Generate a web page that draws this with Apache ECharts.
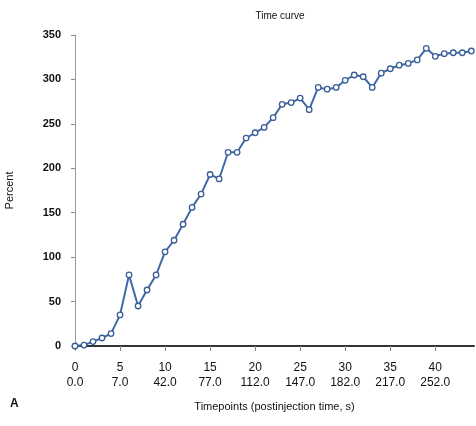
<!DOCTYPE html>
<html>
<head>
<meta charset="utf-8">
<script src="https://cdn.jsdelivr.net/npm/echarts@6/dist/echarts.min.js"></script>
<style>
  html, body { margin: 0; padding: 0; background: #fff; }
  #chart { width: 476px; height: 426px; }
</style>
</head>
<body>
<div id="chart"></div>
<script>
// timepoint index 0..44
const percent = [
  0, 1, 5, 9, 14, 35, 80, 45, 63, 80,
  106, 119, 137, 156, 171, 193, 188, 218, 218, 234,
  240, 246, 257, 272, 274, 279, 266, 291, 289, 291,
  299, 305, 303, 291, 307, 312, 316, 318, 322, 335,
  326, 329, 330, 330, 332
];
// second row under each tick (postinjection time, s)
const timeLabels = {
  0: '0.0', 5: '7.0', 10: '42.0', 15: '77.0', 20: '112.0',
  25: '147.0', 30: '182.0', 35: '217.0', 40: '252.0'
};

const data = percent.map((v, i) => [i, v]);
const font = 'Liberation Sans, Arial, sans-serif';

const chart = echarts.init(document.getElementById('chart'));
chart.setOption({
  animation: false,
  title: {
    text: 'Time curve',
    left: 275, top: 6,
    textAlign: 'center',
    textStyle: { fontFamily: font, fontSize: 10, fontWeight: 'normal', color: '#111' }
  },
  grid: { left: 75, right: 2, top: 35, bottom: 80, outerBoundsMode: 'none' },
  xAxis: {
    type: 'value',
    min: 0, max: 44.3, interval: 5,
    name: 'Timepoints (postinjection time, s)',
    nameLocation: 'middle',
    nameGap: 55,
    nameTextStyle: { fontFamily: font, fontSize: 11, color: '#111' },
    axisLine: { lineStyle: { color: '#333', width: 2 } },
    axisTick: { show: true, length: 5, lineStyle: { color: '#888' } },
    splitLine: { show: false },
    axisLabel: {
      fontFamily: font, fontSize: 12, color: '#111', lineHeight: 15, margin: 14,
      showMaxLabel: false,
      formatter: v => v + '\n' + (timeLabels[v] || '')
    }
  },
  yAxis: {
    type: 'value',
    min: 0, max: 350, interval: 50,
    name: 'Percent',
    nameLocation: 'middle',
    nameGap: 60,
    nameTextStyle: { fontFamily: font, fontSize: 11, color: '#111' },
    axisLine: { show: true, lineStyle: { color: '#999', width: 1 } },
    axisTick: { show: true, length: 4, lineStyle: { color: '#888' } },
    splitLine: { show: false },
    axisLabel: { fontFamily: font, fontSize: 11, fontWeight: 'bold', color: '#111', margin: 14 }
  },
  graphic: [{
    type: 'text', left: 10, top: 398,
    style: { text: 'A', font: 'bold 12px ' + font, fill: '#111' }
  }],
  series: [{
    type: 'line',
    data: data,
    symbol: 'circle',
    symbolSize: 5.5,
    lineStyle: { color: '#4169a6', width: 2 },
    itemStyle: { color: '#fff', borderColor: '#3a5f98', borderWidth: 1.3 }
  }]
});
</script>
</body>
</html>
